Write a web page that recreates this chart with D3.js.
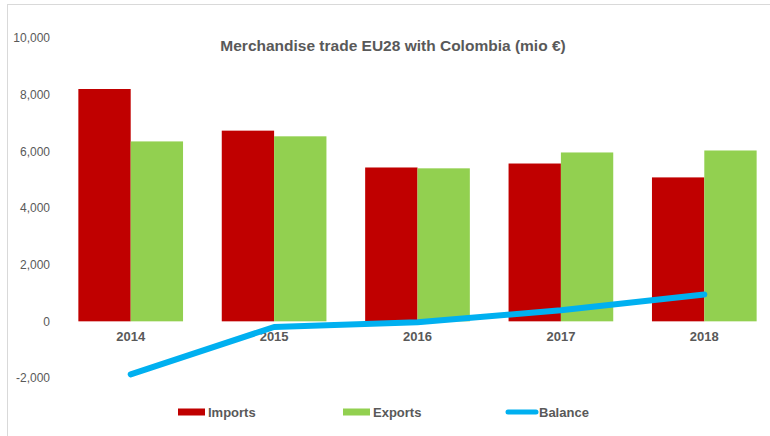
<!DOCTYPE html>
<html>
<head>
<meta charset="utf-8">
<script src="https://cdn.jsdelivr.net/npm/d3@7"></script>
<style>
  body { margin: 0; background: #fff; }
  svg { display: block; font-family: "Liberation Sans", Arial, sans-serif; }
</style>
</head>
<body>
<div id="chart"></div>
<script>
// data (mio €)
var years = ["2014", "2015", "2016", "2017", "2018"];
var imports = [8200, 6730, 5430, 5570, 5080];
var exports = [6350, 6530, 5400, 5960, 6030];
var balance = [-1870, -200, -30, 390, 950];
var yTicks = [-2000, 0, 2000, 4000, 6000, 8000, 10000];

var W = 770, H = 436;
var margin = {top: 38, right: -6, bottom: 58, left: 59};
var width = W - margin.left - margin.right,
  height = H - margin.top - margin.bottom;

var svg = d3.select("#chart")
.append("svg")
  .attr("width", W)
  .attr("height", H);

// chart frame
svg.append("rect")
  .attr("x", 7.5).attr("y", 4.5)
  .attr("width", 800).attr("height", 500)
  .attr("fill", "none")
  .attr("stroke", "#d9d9d9");

var g = svg.append("g")
  .attr("transform", "translate(" + margin.left + "," + margin.top + ")");

var x = d3.scaleBand()
  .domain(years)
  .range([0, width])
  .paddingInner(0.27)
  .paddingOuter(0.135);

var x1 = d3.scaleBand()
  .domain(["imports", "exports"])
  .range([0, x.bandwidth()]);

var y = d3.scaleLinear()
  .domain([-2000, 10000])
  .range([340, 0]);

// y axis labels only
var fmt = d3.format(",");
var yAxis = g.append("g")
  .call(d3.axisLeft(y).tickValues(yTicks).tickSize(0).tickPadding(9)
    .tickFormat(function(d) { return fmt(d).replace("−", "-") }));
yAxis.select(".domain").remove();
yAxis.selectAll("text")
  .attr("fill", "#595959")
  .style("font-size", "12px");

// bars
var series = [
  {key: "imports", values: imports, color: "#C00000"},
  {key: "exports", values: exports, color: "#92D050"}
];
series.forEach(function(s) {
  g.selectAll(".bar-" + s.key)
    .data(s.values)
    .enter()
    .append("rect")
    .attr("class", "bar-" + s.key)
    .attr("x", function(d, i) { return x(years[i]) + x1(s.key) })
    .attr("y", function(d) { return y(d) })
    .attr("width", x1.bandwidth())
    .attr("height", function(d) { return y(0) - y(d) })
    .attr("fill", s.color);
});

// category labels under the zero line
var xAxis = g.append("g")
  .attr("transform", "translate(0," + y(0) + ")")
  .call(d3.axisBottom(x).tickSize(0).tickPadding(10));
xAxis.select(".domain").remove();
xAxis.selectAll("text")
  .attr("fill", "#595959")
  .style("font-size", "13px")
  .style("font-weight", "bold");

// balance line
var line = d3.line()
  .x(function(d, i) { return x(years[i]) + x.bandwidth() / 2 })
  .y(function(d) { return y(d) });
g.append("path")
  .datum(balance)
  .attr("d", line)
  .attr("fill", "none")
  .attr("stroke", "#00B0F0")
  .attr("stroke-width", 6)
  .attr("stroke-linecap", "round")
  .attr("stroke-linejoin", "round");

// title
svg.append("text")
  .attr("x", 393).attr("y", 51)
  .attr("text-anchor", "middle")
  .attr("fill", "#595959")
  .style("font-size", "15.5px")
  .style("font-weight", "bold")
  .text("Merchandise trade EU28 with Colombia (mio €)");

// legend
var legend = [
  {name: "Imports", color: "#C00000", type: "rect", x: 178},
  {name: "Exports", color: "#92D050", type: "rect", x: 343},
  {name: "Balance", color: "#00B0F0", type: "line", x: 506}
];
var lg = svg.selectAll(".legend")
  .data(legend)
  .enter()
  .append("g")
  .attr("transform", function(d) { return "translate(" + d.x + ",412)" });
lg.filter(function(d) { return d.type == "rect" })
  .append("rect")
  .attr("x", 0).attr("y", -3.5)
  .attr("width", 27).attr("height", 7)
  .attr("fill", function(d) { return d.color });
lg.filter(function(d) { return d.type == "line" })
  .append("line")
  .attr("x1", 2).attr("x2", 30)
  .attr("stroke", function(d) { return d.color })
  .attr("stroke-width", 5)
  .attr("stroke-linecap", "round");
lg.append("text")
  .attr("x", function(d) { return d.type == "line" ? 33 : 30 })
  .attr("y", 5)
  .attr("fill", "#595959")
  .style("font-size", "13px")
  .style("font-weight", "bold")
  .text(function(d) { return d.name });
</script>
</body>
</html>
